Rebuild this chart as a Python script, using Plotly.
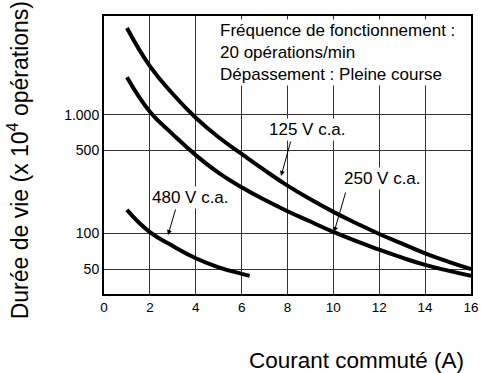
import plotly.graph_objects as go

# Data: switched current (A) vs. life (x 10^4 operations)
x_125 = [1, 2, 3, 4, 5, 6, 7, 8, 9, 10, 11, 12, 13, 14, 15, 16]
y_125 = [5380, 2570, 1496, 944, 646, 468, 341, 253, 194, 152, 122, 99, 82, 68, 58, 50]

x_250 = [1, 2, 3, 4, 5, 6, 7, 8, 9, 10, 11, 12, 13, 14, 15, 16]
y_250 = [2070, 1062, 684, 457, 324, 245, 192, 154, 126, 103, 86, 73, 62.5, 54.3, 48.6, 43.9]

x_480 = [1, 2, 3, 4, 5, 6, 6.35]
y_480 = [158, 102.5, 78.5, 61.8, 51.9, 45.7, 43.9]

x_ticks = [0, 2, 4, 6, 8, 10, 12, 14, 16]
y_ticks = [50, 100, 500, 1000]
y_tick_labels = ["50", "100", "500", "1.000"]

series_labels = ["125 V c.a.", "250 V c.a.", "480 V c.a."]

line_style = dict(color="black", width=4, shape="spline", smoothing=1.3)

fig = go.Figure()
for xs, ys, name in [(x_125, y_125, series_labels[0]),
                     (x_250, y_250, series_labels[1]),
                     (x_480, y_480, series_labels[2])]:
    fig.add_trace(go.Scatter(x=xs, y=ys, mode="lines", line=line_style,
                             name=name, showlegend=False))

font_main = "Liberation Sans, Arial, sans-serif"

annotations = [
    # info block
    dict(xref="paper", yref="paper", x=0.3106, y=0.867, xanchor="left", yanchor="middle",
         align="left", showarrow=False, bgcolor="white", borderpad=1,
         text="Fréquence de fonctionnement :<br>20 opérations/min<br>Dépassement : Pleine course",
         font=dict(size=17, color="black", family=font_main)),
    # series labels
    dict(x=8.85, y=2.880, xref="x", yref="y", text=series_labels[0], showarrow=False,
         bgcolor="white", font=dict(size=17, color="black", family=font_main)),
    dict(x=12.12, y=2.467, xref="x", yref="y", text=series_labels[1], showarrow=False,
         bgcolor="white", font=dict(size=17, color="black", family=font_main)),
    dict(x=3.75, y=2.299, xref="x", yref="y", text=series_labels[2], showarrow=False,
         bgcolor="white", font=dict(size=17, color="black", family=font_main)),
    # arrows
    dict(x=7.72, y=2.484, xref="x", yref="y", ax=10, ay=-36, text="", showarrow=True,
         arrowhead=2, arrowsize=1, arrowwidth=1, arrowcolor="black"),
    dict(x=10.03, y=2.0125, xref="x", yref="y", ax=12, ay=-41, text="", showarrow=True,
         arrowhead=2, arrowsize=1, arrowwidth=1, arrowcolor="black"),
    dict(x=2.79, y=1.987, xref="x", yref="y", ax=8, ay=-27, text="", showarrow=True,
         arrowhead=2, arrowsize=1, arrowwidth=1, arrowcolor="black"),
    # axis titles
    dict(xref="paper", yref="paper", x=-0.235, y=0.48, textangle=-90,
         text="Durée de vie (x 10<sup>4</sup> opérations)", showarrow=False,
         xanchor="center", yanchor="middle",
         font=dict(size=23, color="black", family=font_main)),
    dict(xref="paper", yref="paper", x=0.687, y=-0.241,
         text="Courant commuté (A)", showarrow=False,
         xanchor="center", yanchor="middle",
         font=dict(size=22.5, color="black", family=font_main)),
]

fig.update_layout(
    width=481, height=373,
    margin=dict(l=104, r=10, t=16, b=79, autoexpand=False),
    paper_bgcolor="white", plot_bgcolor="white",
    annotations=annotations,
    xaxis=dict(range=[0, 16], tickmode="array", tickvals=x_ticks,
               ticktext=[str(v) for v in x_ticks], automargin=False,
               showgrid=True, gridcolor="#333333", gridwidth=1,
               showline=True, linecolor="black", linewidth=2, mirror=True,
               zeroline=False, ticks="",
               tickfont=dict(size=13.5, color="black", family=font_main)),
    yaxis=dict(type="log", range=[1.490, 3.832], tickmode="array",
               tickvals=y_ticks, ticktext=y_tick_labels, automargin=False,
               showgrid=True, gridcolor="#333333", gridwidth=1,
               showline=True, linecolor="black", linewidth=2, mirror=True,
               zeroline=False, ticks="",
               tickfont=dict(size=14, color="black", family=font_main)),
)

fig.write_html("out.html")
